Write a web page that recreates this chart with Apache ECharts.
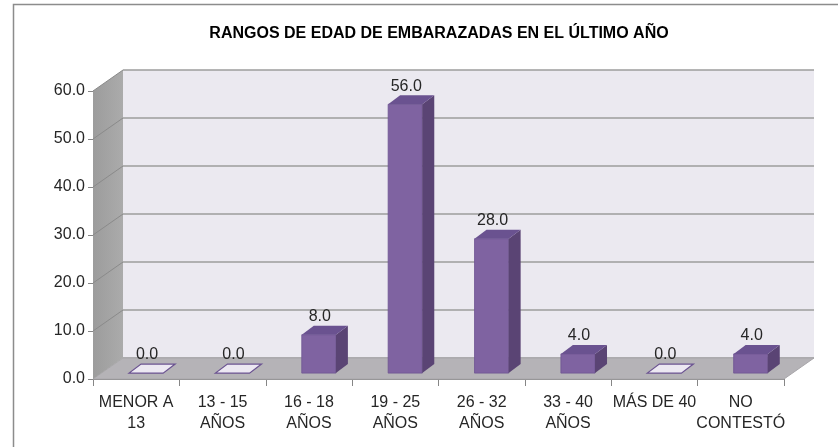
<!DOCTYPE html>
<html>
<head>
<meta charset="utf-8">
<script src="https://cdn.jsdelivr.net/npm/echarts@6/dist/echarts.min.js"></script>
<style>html,body{margin:0;padding:0;background:#fff}#c{width:838px;height:447px}</style>
</head>
<body>
<div id="c"></div>
<script>
const titleText = 'RANGOS DE EDAD DE EMBARAZADAS EN EL ÚLTIMO AÑO';
const categories = ['MENOR A\n13', '13 - 15\nAÑOS', '16 - 18\nAÑOS', '19 - 25\nAÑOS', '26 - 32\nAÑOS', '33 - 40\nAÑOS', 'MÁS DE 40', 'NO\nCONTESTÓ'];
const values = [0.0, 0.0, 8.0, 56.0, 28.0, 4.0, 0.0, 4.0];
const yMin = 0, yMax = 60, yStep = 10;

const DX = 30, DY = -21;      // depth of the 3D box
const FONT = 'Liberation Sans';

const chart = echarts.init(document.getElementById('c'), null, {renderer: 'canvas'});

function wallsRender(params, api) {
  const cw = api.size([1, 0])[0];
  const a = api.coord([0, yMin]);
  const b = api.coord([categories.length - 1, yMin]);
  const t = api.coord([0, yMax]);
  const x0 = a[0] - cw / 2, x1 = b[0] + cw / 2, y0 = a[1], yt = t[1];
  const children = [];
  // floor
  children.push({type: 'polygon', shape: {points: [[x0, y0], [x1, y0], [x1 + DX, y0 + DY], [x0 + DX, y0 + DY]]},
    style: {fill: '#b5b3b7', stroke: '#a8a6aa', lineWidth: 1}});
  // left wall
  children.push({type: 'polygon', shape: {points: [[x0, y0], [x0 + DX, y0 + DY], [x0 + DX, yt + DY], [x0, yt]]},
    style: {fill: new echarts.graphic.LinearGradient(0, 0, 1, 0, [{offset: 0, color: '#9c9c9c'}, {offset: 1, color: '#ababab'}])}});
  for (let v = yMin + yStep; v <= yMax; v += yStep) {
    const q = api.coord([0, v]);
    children.push({type: 'line', shape: {x1: x0, y1: q[1], x2: x0 + DX, y2: q[1] + DY}, style: {stroke: '#8a8a8a', lineWidth: 1}});
  }
  return {type: 'group', children};
}

function barRender(params, api) {
  const idx = api.value(0), val = api.value(1);
  const base = api.coord([idx, 0]);
  const top = api.coord([idx, val]);
  const cw = api.size([1, 0])[0];
  const w = cw * 0.395;
  const fx = DX * 0.33, fy = DY * 0.28;   // front face sits inside the depth
  const ddx = DX * 0.4, ddy = DY * 0.43;
  const cx = base[0] + fx;
  const by = base[1] + fy, ty = top[1] + fy;
  const x0 = cx - w / 2, x1 = cx + w / 2;
  const children = [];
  const label = {type: 'text', style: {text: val.toFixed(1), x: cx + 1, y: ty + ddy - 1, align: 'center', verticalAlign: 'bottom',
    font: '16px "' + FONT + '"', fill: '#262626'}, z2: 10};
  if (val === 0) {
    children.push({type: 'polygon', shape: {points: [[x0, by], [x1, by], [x1 + ddx, by + ddy], [x0 + ddx, by + ddy]]},
      style: {fill: '#ece8f2', stroke: '#6b5391', lineWidth: 1.2}});
  } else {
    children.push({type: 'rect', shape: {x: x0, y: ty, width: w, height: by - ty}, style: {fill: '#7f63a1', stroke: '#6e5492', lineWidth: 0.8}});
    children.push({type: 'polygon', shape: {points: [[x1, by], [x1 + ddx, by + ddy], [x1 + ddx, ty + ddy], [x1, ty]]}, style: {fill: '#5a4474'}});
    children.push({type: 'polygon', shape: {points: [[x0, ty], [x1, ty], [x1 + ddx, ty + ddy], [x0 + ddx, ty + ddy]]}, style: {fill: '#6a5290'}});
  }
  children.push(label);
  return {type: 'group', children};
}

const option = {
  animation: false,
  backgroundColor: '#ffffff',
  title: {
    text: titleText, left: 434, top: 21, textAlign: 'center',
    textStyle: {fontFamily: FONT, fontSize: 16, fontWeight: 'bold', color: '#000'}
  },
  graphic: [{type: 'rect', shape: {x: 13.5, y: 4.5, width: 900, height: 600}, style: {fill: 'none', stroke: '#8c8c8c', lineWidth: 1.5}, z: 100}],
  grid: [
    {left: 93, top: 91, width: 691, height: 288, show: false},
    {left: 93 + DX, top: 91 + DY, width: 691, height: 288, show: true, backgroundColor: '#ebe9f0', borderWidth: 0}
  ],
  xAxis: [
    {type: 'category', gridIndex: 0, data: categories, boundaryGap: true,
      axisLine: {show: true, lineStyle: {color: '#868686', width: 1}},
      axisTick: {show: true, length: 7, lineStyle: {color: '#868686'}},
      axisLabel: {interval: 0, margin: 13, fontFamily: FONT, fontSize: 16, lineHeight: 21, color: '#262626'}},
    {type: 'category', gridIndex: 1, data: categories, show: false}
  ],
  yAxis: [
    {type: 'value', gridIndex: 0, min: yMin, max: yMax, interval: yStep,
      axisLine: {show: true, lineStyle: {color: '#868686'}},
      axisTick: {show: true, length: 5, lineStyle: {color: '#868686'}},
      splitLine: {show: false},
      axisLabel: {margin: 8, formatter: v => v.toFixed(1), fontFamily: FONT, fontSize: 16, color: '#262626'}},
    {type: 'value', gridIndex: 1, min: yMin, max: yMax, interval: yStep,
      axisLine: {show: false}, axisTick: {show: false}, axisLabel: {show: false},
      splitLine: {show: true, lineStyle: {color: '#9d9d9d', width: 1.5}}}
  ],
  series: [
    {type: 'custom', xAxisIndex: 0, yAxisIndex: 0, renderItem: wallsRender, data: [[0, 0]], z: 1, silent: true, clip: false},
    {type: 'custom', xAxisIndex: 0, yAxisIndex: 0, renderItem: barRender, data: values.map((v, i) => [i, v]), z: 5,
      encode: {x: 0, y: 1}}
  ]
};
chart.setOption(option);
</script>
</body>
</html>
